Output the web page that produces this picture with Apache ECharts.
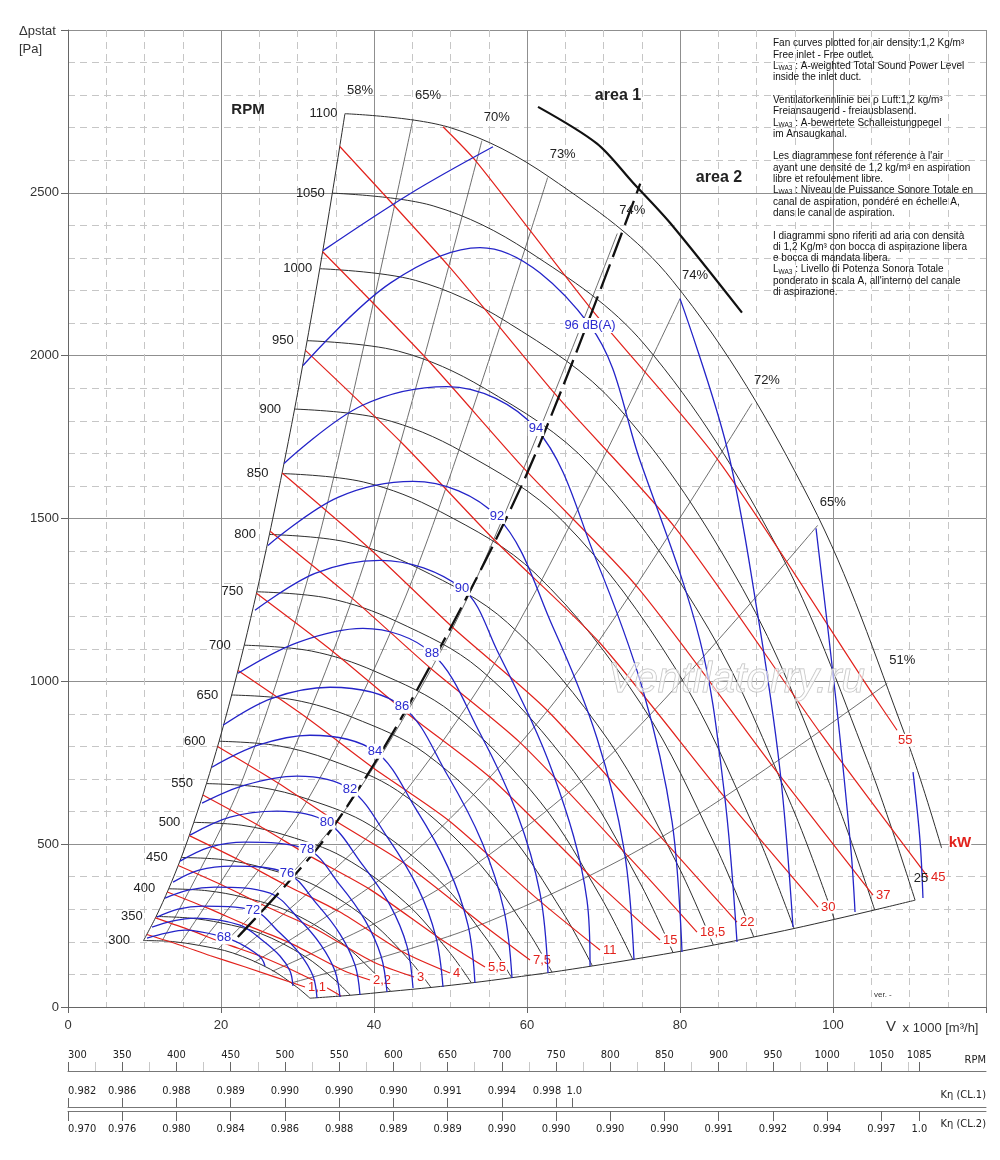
<!DOCTYPE html>
<html>
<head>
<meta charset="utf-8">
<script src="https://cdn.jsdelivr.net/npm/echarts@6/dist/echarts.min.js"></script>
</head>
<body style="margin:0;background:#fff">
<div id="container" style="width:1000px;height:1160px"></div>
<script>
// fan speed curves, V in 1000 m3/h, p in Pa
var rpmLevels = [300, 350, 400, 450, 500, 550, 600, 650, 700, 750, 800, 850, 900, 950, 1000, 1050, 1100];
var rpmCurves = [
  [[9.87,204],[13.64,201],[17.18,189],[21.54,166],[26.45,116],[29.86,62],[31.63,27]],
  [[11.52,278],[15.91,273],[20.05,258],[25.14,226],[30.87,157],[34.84,84],[36.91,36]],
  [[13.16,363],[18.18,357],[22.91,337],[28.72,295],[35.27,206],[39.82,110],[42.18,48]],
  [[14.81,459],[20.45,452],[25.77,426],[32.32,373],[39.68,260],[44.80,139],[47.45,60]],
  [[16.45,567],[22.73,558],[28.64,526],[35.91,461],[44.09,321],[49.77,171],[52.73,74]],
  [[18.10,686],[25.00,675],[31.50,637],[39.50,558],[48.50,389],[54.75,208],[58.00,90]],
  [[19.75,816],[27.27,803],[34.36,758],[43.09,664],[52.91,463],[59.73,247],[63.27,107]],
  [[21.39,958],[29.55,943],[37.23,889],[46.68,779],[57.32,543],[64.70,290],[68.55,126]],
  [[23.04,1111],[31.82,1093],[40.09,1031],[50.27,903],[61.73,630],[69.68,336],[73.82,146]],
  [[24.68,1275],[34.09,1255],[42.95,1184],[53.86,1037],[66.14,723],[74.66,386],[79.09,167]],
  [[26.33,1451],[36.36,1428],[45.82,1347],[57.45,1180],[70.55,822],[79.64,439],[84.36,190]],
  [[27.97,1638],[38.64,1612],[48.68,1521],[61.05,1332],[74.95,929],[84.61,496],[89.64,215]],
  [[29.62,1836],[40.91,1807],[51.55,1705],[64.64,1493],[79.36,1041],[89.59,556],[94.91,241]],
  [[31.26,2046],[43.18,2014],[54.41,1900],[68.23,1664],[83.77,1160],[94.57,619],[100.18,269]],
  [[32.91,2267],[45.45,2231],[57.27,2105],[71.82,1844],[88.18,1285],[99.55,686],[105.45,298]],
  [[34.55,2499],[47.73,2460],[60.14,2321],[75.41,2033],[92.59,1417],[104.52,756],[110.73,328]],
  [[36.20,2743],[50.00,2700],[63.00,2547],[79.00,2231],[97.00,1555],[109.50,830],[114.20,488]]
];

// efficiency lines
var leftBoundaryName = '58%';
var lowerBoundaryName = '25';
var effNames = ['65%', '70%', '73%', '74%', '74%', '72%', '65%', '51%'];
var effLines = [
  [[12.30,203],[22.55,682],[32.80,1442],[45.10,2727]],
  [[14.75,198],[27.05,665],[39.35,1407],[54.10,2660]],
  [[17.10,189],[31.35,637],[45.60,1347],[62.70,2547]],
  [[19.58,177],[35.90,594],[52.22,1256],[71.80,2375]],
  [[21.82,162],[40.00,544],[58.18,1150],[80.00,2175]],
  [[24.38,138],[44.70,463],[65.02,980],[89.40,1853]],
  [[26.73,110],[49.00,370],[71.28,782],[98.00,1479]],
  [[29.21,74],[53.55,249],[77.89,526],[107.10,994]]
];

// sound power curves dB(A), point 3 carries the label
var dbLevels = [68, 70, 72, 74, 76, 78, 80, 82, 84, 86, 88, 90, 92, 94, 96, 98, 100, 102];
var dbLabelled = [68, 72, 76, 78, 80, 82, 84, 86, 88, 90, 92, 94, 96];
var dbCurves = [
  [[10.33,211.7],[12.81,227.0],[15.29,236.2],[20.39,214.8],[22.61,193.3],[24.31,168.7],[25.36,147.3],[25.75,125.8]],
  [[10.98,245.4],[13.59,263.8],[16.60,273.1],[22.48,251.6],[25.36,205.6],[27.71,156.5],[29.02,110.4],[29.41,64.4]],
  [[11.63,276.1],[14.38,300.7],[17.65,309.9],[24.18,297.6],[27.58,230.1],[30.33,162.6],[32.03,95.1],[32.55,27.6]],
  [[12.68,334.4],[15.69,359.0],[19.22,368.2],[26.41,349.8],[30.20,270.0],[33.07,190.2],[34.90,110.4],[35.56,30.7]],
  [[13.73,383.5],[17.12,420.3],[21.44,432.6],[28.63,411.1],[32.55,316.0],[35.56,224.0],[37.52,128.9],[38.17,36.8]],
  [[14.64,447.9],[18.56,490.9],[23.14,506.2],[31.24,484.7],[35.56,374.3],[38.82,266.9],[40.92,156.5],[41.70,46.0]],
  [[15.95,527.7],[21.18,582.9],[27.32,601.3],[33.86,567.6],[38.43,438.7],[42.09,312.9],[44.31,187.1],[45.10,58.3]],
  [[17.52,625.9],[23.14,681.1],[29.93,708.7],[36.86,668.8],[41.83,518.5],[45.75,365.1],[48.10,214.8],[49.02,61.4]],
  [[18.82,736.3],[24.84,803.8],[31.63,834.5],[40.13,785.4],[45.49,607.5],[49.67,429.5],[52.29,251.6],[53.20,73.6]],
  [[20.26,865.2],[26.67,948.0],[34.25,981.8],[43.66,923.5],[49.54,714.8],[54.12,506.2],[56.99,297.6],[58.04,89.0]],
  [[22.22,1024.7],[30.07,1119.8],[38.56,1162.8],[47.58,1086.1],[53.86,840.6],[58.69,595.2],[61.70,349.8],[62.75,104.3]],
  [[24.44,1218.0],[32.29,1331.5],[40.78,1371.4],[51.50,1285.5],[56.08,1095.3],[63.40,717.9],[67.84,328.3],[68.24,125.8]],
  [[26.14,1417.4],[35.29,1564.7],[45.10,1613.8],[56.08,1506.4],[63.40,1165.8],[69.15,825.3],[72.68,484.7],[73.99,144.2]],
  [[28.24,1669.0],[38.43,1846.9],[49.54,1905.2],[61.18,1776.4],[69.02,1374.5],[75.16,972.6],[78.95,570.6],[80.26,168.7]],
  [[30.72,1969.7],[42.22,2224.3],[53.86,2331.7],[68.24,2092.4],[74.77,1678.2],[82.61,1126.0],[85.75,665.8],[87.45,199.4]],
  [[33.33,2322.5],[44.71,2497.4],[55.56,2641.5],'-',[80.00,2175.2],[86.14,1718.1],[90.07,1218.0],[93.07,727.1],[94.77,245.4]],
  [[97.78,1469.6],[100.39,941.9],[102.35,481.7],[102.88,291.5]],
  [[110.46,721.0],[111.37,512.4],[111.76,334.4]]
];

// shaft power lines kW
var kwLabels = ['1,1', '', '2,2', '3', '4', '5,5', '7,5', '11', '15', '18,5', '22', '30', '37', '45', '55'];
var kwLines = [
  [[10.31,222.6],[14.50,191.2],[18.53,158.2],[23.08,123.5],[30.98,61.4]],
  [[11.44,273.7],[16.08,235.1],[20.55,194.5],[25.60,151.9],[31.67,86.9],[35.69,34.1]],
  [[12.99,353.3],[18.27,303.5],[23.35,251.3],[29.08,196.1],[35.99,112.2],[39.48,82.8]],
  [[14.41,434.5],[20.26,373.1],[25.89,308.8],[32.25,241.1],[39.91,138.0],[45.23,92.0]],
  [[15.86,526.2],[22.30,452.0],[28.50,374.1],[35.50,292.2],[43.92,167.2],[49.93,104.3]],
  [[17.63,650.9],[24.80,558.9],[31.69,462.5],[39.47,361.2],[48.84,206.7],[54.51,122.7]],
  [[19.55,800.1],[27.50,687.3],[35.14,568.8],[43.77,444.2],[54.16,254.2],[60.39,144.2]],
  [[22.22,1033.0],[31.25,887.4],[39.92,734.1],[49.73,573.5],[61.53,328.1],[69.54,174.9]],
  [[24.63,1270.3],[34.65,1091.1],[44.27,903.0],[55.15,705.3],[68.23,403.5],[77.39,205.6]],
  [[26.42,1460.9],[37.16,1254.7],[47.47,1038.4],[59.14,810.9],[73.17,464.0],[82.22,230.1]],
  [[27.99,1639.8],[39.37,1408.7],[50.30,1165.4],[62.66,910.4],[77.53,520.9],[87.45,260.8]],
  [[31.04,2016.4],[43.65,1731.9],[55.77,1433.1],[69.48,1119.2],[85.97,640.4],[98.04,306.8]],
  [[33.29,2319.2],[46.82,1992.1],[59.82,1648.3],[74.51,1287.3],[92.19,736.6],[105.23,343.6]],
  [[35.53,2642.3],[49.97,2269.5],[63.84,1877.9],[79.54,1466.8],[98.41,839.3],[112.42,398.8]],
  [[49.02,2703.0],[53.43,2594.6],[68.27,2147.0],[85.05,1677.0],[105.22,959.3],[108.37,849.8]]
];

var optimumLine = [[22.2,215],[33.6,518],[45.1,951],[60.0,1638],[74.8,2528]];
var areaLine = [[61.44,2764],[69.15,2651],[73.86,2531],[78.69,2408],[88.10,2132]];

// bottom scales
var rpmTicks = [300,350,400,450,500,550,600,650,700,750,800,850,900,950,1000,1050,1085];
var rpmMinorTicks = [325,375,425,475,525,575,625,675,725,775,825,875,925,975,1025,1075];
var kn1Ticks = [300,350,400,450,500,550,600,650,700,750,765];
var kn1Labels = ['0.982','0.986','0.988','0.989','0.990','0.990','0.990','0.991','0.994','0.998','1.0'];
var kn2Ticks = [300,350,400,450,500,550,600,650,700,750,800,850,900,950,1000,1050,1085];
var kn2Labels = ['0.970','0.976','0.980','0.984','0.986','0.988','0.989','0.989','0.990','0.990','0.990','0.990','0.991','0.992','0.994','0.997','1.0'];

var FONT = '"Liberation Sans", Arial, sans-serif';
var NARROW = '"Liberation Sans Narrow", "DejaVu Sans Condensed", "Liberation Sans", sans-serif';
var BLACK = '#2e2e2e', BLUE = '#2424c8', RED = '#e2221c';

var dom = document.getElementById('container');
var myChart = echarts.init(dom);

var series = [];
function curve(data, color, width, z, smooth, extra) {
  var s = {
    type: 'line', data: data, smooth: smooth, symbol: 'none', silent: true,
    connectNulls: false, z: z,
    lineStyle: { color: color, width: width }
  };
  for (var k in extra) s[k] = extra[k];
  return s;
}

rpmCurves.forEach(function (pts) {
  series.push(curve(pts, BLACK, 1, 3, 0.35));
});
// left (stall) boundary and lower boundary
series.push(curve(rpmCurves.map(function (c) { return c[0]; }), BLACK, 1, 3, 0.3));
series.push(curve(rpmCurves.slice(0, -1).map(function (c) { return c[c.length - 1]; }), BLACK, 1, 3, 0.3));

effLines.forEach(function (pts) {
  series.push(curve(pts, '#4a4a4a', 0.8, 3, 0.3));
});

dbCurves.forEach(function (pts) {
  series.push(curve(pts, BLUE, 1.3, 5, 0.35));
});

kwLines.forEach(function (pts, i) {
  var lbl = kwLabels[i];
  series.push(curve(pts, RED, 1.2, 4, 0.25, {
    endLabel: {
      show: lbl !== '', formatter: lbl, color: RED, fontSize: 13, fontFamily: FONT,
      distance: 2, backgroundColor: '#fff', padding: [0, 1],
      offset: lbl === '55' ? [-2, 10] : [0, 0]
    }
  }));
});

series.push(curve(optimumLine, '#111', 2.3, 6, 0.3, {
  lineStyle: { color: '#111', width: 2.3, type: [26, 8] }
}));
series.push(curve(areaLine, '#111', 2.2, 6, 0.3));

// label layers
function labelLayer(data, label, z) {
  return {
    type: 'scatter', data: data, symbol: 'circle', symbolSize: 1, silent: true, z: z,
    itemStyle: { color: 'rgba(0,0,0,0)', opacity: 1 }, label: label
  };
}
series.push(labelLayer(rpmCurves.map(function (c, i) {
  return { value: c[0], name: String(rpmLevels[i]), label: { distance: rpmLevels[i] >= 1000 ? 7 : 13 } };
}), { show: true, position: 'left', formatter: '{b}', color: '#222', fontSize: 13, fontFamily: FONT }, 8));

var effLabelData = [{ value: rpmCurves[rpmCurves.length - 1][0], name: leftBoundaryName }];
effLines.forEach(function (pts, i) {
  effLabelData.push({ value: pts[pts.length - 1], name: effNames[i] });
});
var lastLower = rpmCurves[rpmCurves.length - 2];
effLabelData.push({ value: lastLower[lastLower.length - 1], name: lowerBoundaryName, label: { offset: [6, -22] } });
series.push(labelLayer(effLabelData, {
  show: true, position: 'inside', offset: [15, -23], formatter: '{b}',
  color: '#222', fontSize: 13, fontFamily: FONT, textBorderWidth: 0
}, 8));

series.push(labelLayer(dbLabelled.map(function (lv) {
  var pts = dbCurves[dbLevels.indexOf(lv)];
  return { value: pts[3], name: lv === 96 ? '96 dB(A)' : String(lv) };
}), {
  show: true, position: 'inside', formatter: '{b}', color: '#2b2bd0', fontSize: 13,
  fontFamily: FONT, backgroundColor: '#fff', padding: [1, 1], textBorderWidth: 0
}, 9));

function scaleAxis(grid, pos, ticks, fmt, tickColor, showLine, len, margin, showLabel) {
  return {
    gridIndex: grid, type: 'value', min: 300, max: 1146.5, position: pos,
    axisLine: { show: showLine, onZero: false, lineStyle: { color: '#777', width: 1 } },
    axisTick: { show: true, length: len, customValues: ticks, lineStyle: { color: tickColor } },
    axisLabel: {
      show: showLabel, customValues: ticks, formatter: fmt, margin: margin,
      fontSize: 11, color: '#222', fontFamily: NARROW, alignMinLabel: 'left',
      rich: {
        l: { fontSize: 11, fontFamily: NARROW, color: '#222', padding: [0, 18, 0, 0] },
        r: { fontSize: 11, fontFamily: NARROW, color: '#222', padding: [0, 0, 0, 4] }
      }
    },
    splitLine: { show: false }
  };
}

var option = {
  animation: false,
  backgroundColor: '#fff',
  textStyle: { fontFamily: FONT },
  grid: [
    { left: 68, right: 14, top: 30, bottom: 153 },
    { left: 68, right: 14, top: 1071, height: 1 },
    { left: 68, right: 14, top: 1107, height: 1 },
    { left: 68, right: 14, top: 1110, height: 1 }
  ],
  xAxis: [
    {
      gridIndex: 0, type: 'value', min: 0, max: 120, interval: 20,
      axisLine: { show: true, onZero: false, lineStyle: { color: '#666' } },
      axisTick: { show: true, length: 6, lineStyle: { color: '#666' } },
      axisLabel: {
        fontSize: 13, color: '#333', margin: 12,
        formatter: function (v) { return v === 120 ? '' : v; }
      },
      splitLine: { show: true, lineStyle: { color: '#8f8f8f', width: 1 } },
      minorTick: { show: false, splitNumber: 4 },
      minorSplitLine: { show: true, lineStyle: { color: '#c6c6c6', width: 1, type: [7, 5] } }
    },
    scaleAxis(1, 'top', rpmTicks, function (v) { return String(v); }, '#666', true, 9, 10, true),
    scaleAxis(1, 'top', rpmMinorTicks, function () { return ''; }, '#c8c8c8', false, 9, 10, false),
    scaleAxis(2, 'top', kn1Ticks, function (v) {
      var i = kn1Ticks.indexOf(v);
      if (i < 0) return '';
      if (v === 750) return '{l|' + kn1Labels[i] + '}';
      if (v === 765) return '{r|' + kn1Labels[i] + '}';
      return kn1Labels[i];
    }, '#666', true, 9, 10, true),
    scaleAxis(3, 'bottom', kn2Ticks, function (v) {
      var i = kn2Ticks.indexOf(v);
      return i < 0 ? '' : kn2Labels[i];
    }, '#666', true, 10, 13, true)
  ],
  yAxis: [
    {
      gridIndex: 0, type: 'value', min: 0, max: 3000, interval: 500,
      axisLine: { show: true, onZero: false, lineStyle: { color: '#666' } },
      axisTick: { show: true, length: 7, lineStyle: { color: '#666' } },
      axisLabel: {
        fontSize: 13, color: '#333', margin: 9,
        formatter: function (v) { return v === 3000 ? '' : v; }
      },
      splitLine: { show: true, lineStyle: { color: '#8f8f8f', width: 1 } },
      minorTick: { show: false, splitNumber: 5 },
      minorSplitLine: { show: true, lineStyle: { color: '#c6c6c6', width: 1, type: [7, 5] } }
    },
    { gridIndex: 1, show: false, min: 0, max: 1 },
    { gridIndex: 2, show: false, min: 0, max: 1 },
    { gridIndex: 3, show: false, min: 0, max: 1 }
  ],
  graphic: [
    { type: 'text', x: 19, y: 31, z: 20, style: { text: 'Δpstat', font: '13px ' + FONT, fill: '#333', align: 'left', verticalAlign: 'middle' } },
    { type: 'text', x: 19, y: 49, z: 20, style: { text: '[Pa]', font: '13px ' + FONT, fill: '#333', align: 'left', verticalAlign: 'middle' } },
    { type: 'text', x: 886, y: 1028, z: 20, style: {
      text: '{v|V} x 1000 [m³/h]', font: '13px ' + FONT, fill: '#333', align: 'left', verticalAlign: 'middle',
      rich: { v: { fontSize: 15, fontFamily: FONT, fill: '#333', padding: [0, 3, 2, 0] } }
    } },
    { type: 'text', x: 248, y: 110, z: 20, style: { text: 'RPM', font: 'bold 15px ' + FONT, fill: '#222', align: 'center', verticalAlign: 'middle' } },
    { type: 'text', x: 618, y: 96, z: 20, style: { text: 'area 1', font: 'bold 16px ' + FONT, fill: '#222', align: 'center', verticalAlign: 'middle' } },
    { type: 'text', x: 719, y: 178, z: 20, style: { text: 'area 2', font: 'bold 16px ' + FONT, fill: '#222', align: 'center', verticalAlign: 'middle' } },
    { type: 'text', x: 960, y: 843, z: 20, style: { text: 'kW', font: 'bold 15px ' + FONT, fill: RED, align: 'center', verticalAlign: 'middle', backgroundColor: '#fff' } },
    { type: 'text', x: 874, y: 995, z: 20, style: { text: 'ver. -', font: '8px ' + FONT, fill: '#333', align: 'left', verticalAlign: 'middle' } },
    { type: 'text', x: 608, y: 680, z: 30, style: {
      text: 'Ventilatorry.ru', font: 'italic 42px ' + FONT, fill: 'rgba(255,255,255,0.55)',
      stroke: '#bcbcbc', lineWidth: 1, align: 'left', verticalAlign: 'middle'
    } },
    { type: 'text', x: 773, y: 38, z: 20, style: {
      text: [
        'Fan curves plotted for air density:1,2 Kg/m³',
        'Free inlet - Free outlet.',
        'L{s|WA3} : A-weighted Total Sound Power Level',
        'inside the inlet duct.',
        ' ',
        'Ventilatorkennlinie bei ρ Luft:1,2 kg/m³',
        'Freiansaugend - freiausblasend.',
        'L{s|WA3} : A-bewertete Schalleistungpegel',
        'im Ansaugkanal.',
        ' ',
        "Les diagrammese font réference à l'air",
        'ayant une densité de 1,2 kg/m³ en aspiration',
        'libre et refoulement libre.',
        'L{s|WA3} : Niveau de Puissance Sonore Totale en',
        'canal de aspiration, pondéré en échelle A,',
        'dans le canal de aspiration.',
        ' ',
        'I diagrammi sono riferiti ad aria con densità',
        'di 1,2 Kg/m³ con bocca di aspirazione libera',
        'e bocca di mandata libera.',
        'L{s|WA3} : Livello di Potenza Sonora Totale',
        "ponderato in scala A, all'interno del canale",
        'di aspirazione.'
      ].join('\n'),
      font: '10px ' + FONT, fill: '#111', lineHeight: 11.3, align: 'left', verticalAlign: 'top',
      rich: { s: { fontSize: 6.5, fontFamily: FONT, fill: '#111', lineHeight: 11.3, verticalAlign: 'bottom' } }
    } },
    { type: 'text', x: 986, y: 1060, z: 20, style: { text: 'RPM', font: '11px ' + NARROW, fill: '#222', align: 'right', verticalAlign: 'middle' } },
    { type: 'text', x: 986, y: 1095, z: 20, style: { text: 'Kη (CL.1)', font: '11px ' + NARROW, fill: '#222', align: 'right', verticalAlign: 'middle' } },
    { type: 'text', x: 986, y: 1124, z: 20, style: { text: 'Kη (CL.2)', font: '11px ' + NARROW, fill: '#222', align: 'right', verticalAlign: 'middle' } }
  ],
  series: series
};

myChart.setOption(option);
</script>
</body>
</html>
